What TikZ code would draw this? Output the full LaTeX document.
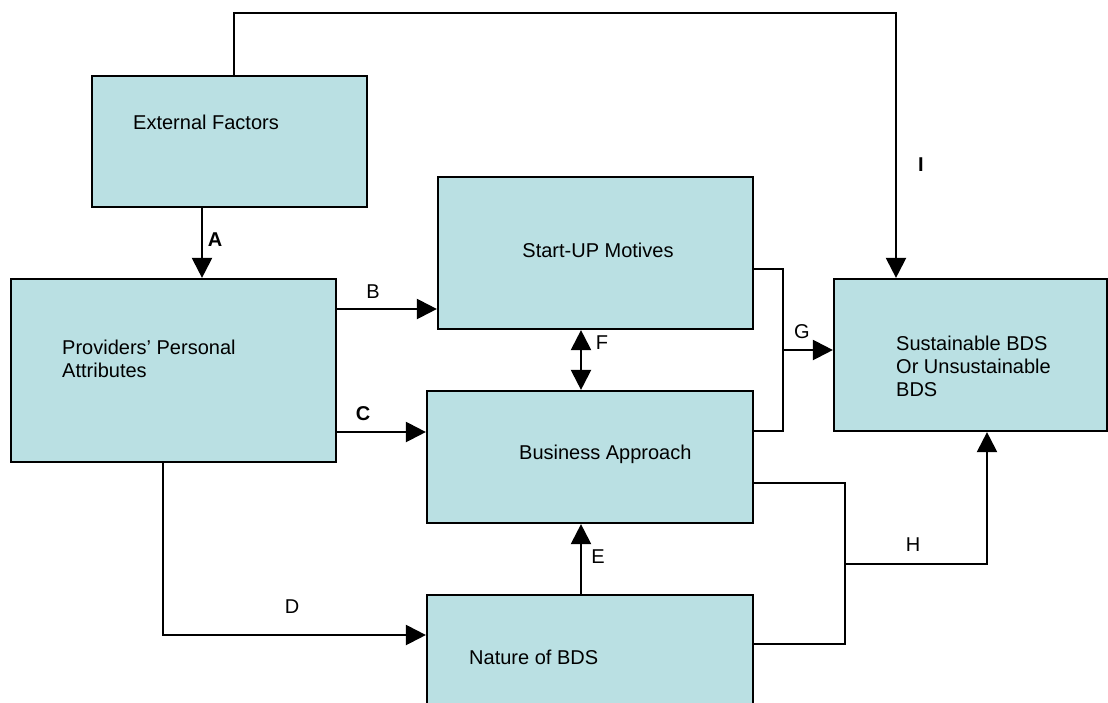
\documentclass[tikz,border=0pt]{standalone}
\usepackage{fontspec}
\setmainfont{Liberation Sans}
\usetikzlibrary{arrows.meta}
\definecolor{boxfill}{RGB}{186,224,227}
\tikzset{
  boxnode/.style={draw=black, line width=2.2pt, fill=boxfill, rectangle, inner sep=0pt},
  txt/.style={inner sep=0pt, align=left, font=\fontsize{20}{23}\selectfont},
  lbl/.style={inner sep=0pt, font=\fontsize{20}{23}\selectfont},
  conn/.style={line width=2.2pt, draw=black},
  arr/.style={conn, -{Triangle[length=20pt, width=20pt]}},
  darr/.style={conn, {Triangle[length=20pt, width=20pt]}-{Triangle[length=20pt, width=20pt]}}
}
\begin{document}
\begin{tikzpicture}[x=1pt, y=-1pt]
\clip (0,0) rectangle (1108,702);
\fill[white] (0,0) rectangle (1108,702);

% boxes
\node[boxnode, minimum width=275pt, minimum height=131pt] (ext) at (229.5,141.5) {};
\node[boxnode, minimum width=325pt, minimum height=183pt] (prov) at (173.5,370.5) {};
\node[boxnode, minimum width=315pt, minimum height=152pt] (start) at (595.5,253) {};
\node[boxnode, minimum width=326pt, minimum height=132pt] (bus) at (590,457) {};
\node[boxnode, minimum width=273pt, minimum height=152pt] (sus) at (970.5,355) {};
\node[boxnode, minimum width=326pt, minimum height=150pt] (nat) at (590,670) {};

% texts
\node[txt, anchor=west] (extT) at (133,122) {External Factors};
\node[txt] (startT) at (598,250) {Start-UP Motives};
\node[txt, anchor=west] (provT) at (62,359) {Providers’ Personal\\Attributes};
\node[txt, anchor=west] (busT) at (519,454) {Business Approach};
\node[txt, anchor=west] (susT) at (896,366) {Sustainable BDS\\Or Unsustainable\\BDS};
\node[txt, anchor=west] (natT) at (469,657) {Nature of BDS};

% helper coordinates
\coordinate (iA) at (234,13);
\coordinate (iB) at (896,13);
\coordinate (xA) at (202,0);
\coordinate (yB) at (0,309);
\coordinate (yC) at (0,432);
\coordinate (xD) at (163,0);
\coordinate (yD) at (0,635);
\coordinate (xE) at (581,0);
\coordinate (gTop) at (783,269);
\coordinate (gBot) at (783,431);
\coordinate (gMid) at (783,350);
\coordinate (hTop) at (845,483);
\coordinate (hBot) at (845,644);
\coordinate (hMid) at (845,564);
\coordinate (xH) at (987,0);

% connectors
\draw[arr] (ext.north -| iA) -- (iA) -- (iB) -- (sus.north -| iB);
\draw[arr] (ext.south -| xA) -- (prov.north -| xA);
\draw[arr] (prov.east |- yB) -- (start.west |- yB);
\draw[arr] (prov.east |- yC) -- (bus.west |- yC);
\draw[arr] (prov.south -| xD) |- (nat.west |- yD);
\draw[arr] (nat.north -| xE) -- (bus.south -| xE);
\draw[darr] (start.south -| xE) -- (bus.north -| xE);
\draw[conn] (start.east |- gTop) -- (gTop) -- (gBot) -- (bus.east |- gBot);
\draw[arr] (gMid) -- (sus.west |- gMid);
\draw[conn] (bus.east |- hTop) -- (hTop) -- (hBot) -- (nat.east |- hBot);
\draw[arr] (hMid) -| (sus.south -| xH);

% labels
\node[lbl, font=\fontsize{20}{23}\selectfont\bfseries] (lI) at (921,165) {I};
\node[lbl, font=\fontsize{20}{23}\selectfont\bfseries] (lA) at (215,240) {A};
\node[lbl] (lB) at (373,292) {B};
\node[lbl, font=\fontsize{20}{23}\selectfont\bfseries] (lC) at (363,414) {C};
\node[lbl] (lD) at (292,607) {D};
\node[lbl] (lE) at (598,557) {E};
\node[lbl] (lF) at (602,343) {F};
\node[lbl] (lG) at (802,332) {G};
\node[lbl] (lH) at (913,545) {H};
\end{tikzpicture}
\end{document}
